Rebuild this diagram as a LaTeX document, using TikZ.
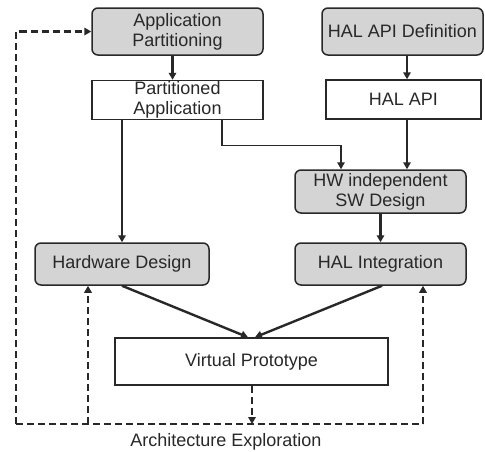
\documentclass[tikz,border=0pt]{standalone}
\usepackage{fontspec}
\setmainfont{Liberation Sans}
\usetikzlibrary{arrows.meta,calc}
\definecolor{boxgray}{RGB}{212,212,212}
\definecolor{edge}{RGB}{40,40,40}
\begin{document}
\begin{tikzpicture}[x=1pt,y=-1pt,
  txt/.style={font=\fontsize{18}{20}\selectfont,text=edge,align=center,inner sep=0pt},
  graybox/.style={txt,draw=edge,line width=1.5pt,fill=boxgray,rounded corners=6pt},
  whitebox/.style={txt,draw=edge,line width=1.5pt,fill=white},
  arr/.style={draw=edge,line width=2.4pt,-{Triangle[length=7pt,width=7.5pt]}},
  thinarr/.style={draw=edge,line width=1.4pt,-{Triangle[length=7pt,width=7.5pt]}},
  darr/.style={draw=edge,line width=2.7pt,dash pattern=on 7pt off 4pt,-{Triangle[length=7pt,width=7.5pt]}},
  dline/.style={draw=edge,line width=2.7pt,dash pattern=on 7pt off 4pt}]
\useasboundingbox (0,0) rectangle (485,451);
\node[graybox,minimum width=171pt,minimum height=47pt] (ap) at (177.5,31.5) {Application\\Partitioning};
\node[graybox,minimum width=161pt,minimum height=47pt] (hd) at (402.5,31.5) {HAL API Definition};
\node[whitebox,minimum width=171pt,minimum height=39pt] (pa) at (177.5,100) {Partitioned\\Application};
\node[whitebox,minimum width=155pt,minimum height=39pt] (ha) at (403.5,99.5) {HAL API};
\node[graybox,minimum width=171pt,minimum height=43pt] (sw) at (380.5,191.5) {HW independent\\SW Design};
\node[graybox,minimum width=174pt,minimum height=42pt] (hw) at (122,264) {Hardware Design};
\node[graybox,minimum width=171pt,minimum height=42pt] (hi) at (380.5,264) {HAL Integration};
\node[whitebox,minimum width=273pt,minimum height=47pt] (vp) at (251.5,361.5) {Virtual Prototype};
\node[txt] (ae) at (226,442) {Architecture Exploration};
% solid connectors
\draw[arr] ([xshift=-5pt]ap.south) -- ([xshift=-5pt]pa.north);
\draw[arr] ([xshift=4.5pt]hd.south) -- ([xshift=3.5pt]ha.north);
\draw[arr] (pa.south -| hw.north) -- (hw.north);
\coordinate (e1) at ($(pa.south)+(44.5,25)$);
\draw[thinarr] ([xshift=44.5pt]pa.south) -- (e1) -- (e1 -| 341,0) -- ($(sw.north)+(-39.5,0)$);
\draw[arr] ([xshift=3.5pt]ha.south) -- ([xshift=26.5pt]sw.north);
\draw[arr] (sw.south) -- (hi.north);
\draw[arr] (hw.south) -- ([xshift=-3.5pt]vp.north);
\draw[arr] ([xshift=1.5pt]hi.south) -- ([xshift=3.5pt]vp.north);
% dashed exploration loop
\coordinate (bm) at (252,424);
\coordinate (bl) at (16,424);
\coordinate (br) at (423,424);
\draw[darr] (vp.south -| bm) -- (bm);
\draw[dline] (bl) -- (br);
\draw[darr] (bl) -- (bl |- ap.west) -- (ap.west);
\draw[darr] (88,424) -- (88,285.8);
\draw[darr] (br) -- (br |- hi.south);
\end{tikzpicture}
\end{document}
